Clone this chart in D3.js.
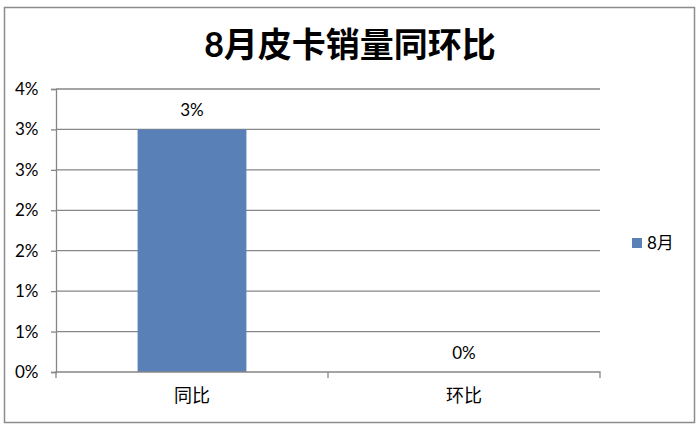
<!DOCTYPE html>
<html>
<head>
<meta charset="utf-8">
<script src="https://cdn.jsdelivr.net/npm/d3@7"></script>
<style>
  body { margin: 0; background: #fff; }
  text { font-family: Lato, "Noto Sans CJK SC", sans-serif; fill: #000; }
</style>
</head>
<body>
<div id="chart"></div>
<script>
// datos del gráfico (en %)
const categorias = ['同比', '环比'];
const valores = [3.0, 0.0];
const etiquetas = ['3%', '0%'];
const serie = '8月';
const ticksY = [0, 0.5, 1, 1.5, 2, 2.5, 3, 3.5];

const width = 700, height = 431;
const margin = { top: 89, bottom: 59, left: 56, right: 100 };

const svg = d3.select('#chart').append('svg')
  .attr('width', width).attr('height', height);

// marco exterior
svg.append('rect')
  .attr('x', 4.5).attr('y', 7.5).attr('width', 690).attr('height', 415)
  .attr('fill', '#fff').attr('stroke', '#8c8c8c').attr('stroke-width', 1.5);

// título
svg.append('text')
  .attr('x', 350).attr('y', 57)
  .attr('text-anchor', 'middle')
  .style('font-size', '34px').attr('font-weight', 'bold')
  .text('8月皮卡销量同环比');

const x = d3.scaleBand()
  .domain(categorias)
  .range([margin.left, width - margin.right])
  .paddingInner(0.6).paddingOuter(0.3);

const xOuter = d3.scaleBand()
  .domain(categorias)
  .range([margin.left, width - margin.right]);

const y = d3.scaleLinear()
  .domain([0, 3.5])
  .range([height - margin.bottom, margin.top]);

// rejilla
svg.append('g')
  .selectAll('line')
  .data(ticksY.slice(1))
  .join('line')
  .attr('x1', margin.left).attr('x2', width - margin.right)
  .attr('y1', d => y(d)).attr('y2', d => y(d))
  .attr('stroke', '#868686').attr('stroke-width', 1.3);

// eje Y
const ejeY = svg.append('g')
  .attr('transform', `translate(${margin.left},0)`)
  .call(d3.axisLeft(y).tickValues(ticksY).tickSize(5)
    .tickFormat(d => Math.round(d) + '%'));
ejeY.selectAll('path, line').attr('stroke', '#868686').attr('stroke-width', 1.3);
ejeY.selectAll('text').style('font-size', '17px').attr('text-anchor', 'start').attr('x', -41);

// barras
svg.append('g')
  .selectAll('rect')
  .data(valores)
  .join('rect')
  .attr('x', (d, i) => x(categorias[i]))
  .attr('y', d => y(d))
  .attr('width', x.bandwidth())
  .attr('height', d => y(0) - y(d))
  .attr('fill', '#5a80b8');

// etiquetas de datos
svg.append('g')
  .selectAll('text')
  .data(valores)
  .join('text')
  .attr('x', (d, i) => x(categorias[i]) + x.bandwidth() / 2)
  .attr('y', d => y(d) - 13)
  .attr('text-anchor', 'middle')
  .style('font-size', '17px')
  .text((d, i) => etiquetas[i]);

// eje X
const ejeX = svg.append('g')
  .attr('transform', `translate(0,${y(0)})`)
  .call(d3.axisBottom(xOuter).tickSize(6).tickPadding(10).tickSizeOuter(6));
ejeX.selectAll('path, line').attr('stroke', '#868686').attr('stroke-width', 1.3);
ejeX.select('.domain').attr('d', `M${margin.left},6V0H${width - margin.right}V6`);
ejeX.selectAll('.tick line').attr('transform', d => `translate(${xOuter.bandwidth() / 2},0)`);
ejeX.selectAll('.tick').filter((d, i) => i === categorias.length - 1).select('line').remove();
ejeX.selectAll('text').style('font-size', '18px').attr('dy', '0.8em');

// leyenda
const leyenda = svg.append('g').attr('transform', 'translate(632,243)');
leyenda.append('rect').attr('x', 0).attr('y', -5).attr('width', 10).attr('height', 10).attr('fill', '#5a80b8');
leyenda.append('text').attr('x', 15).attr('y', 0).attr('dy', '0.35em').style('font-size', '17px').text(serie);
</script>
</body>
</html>
